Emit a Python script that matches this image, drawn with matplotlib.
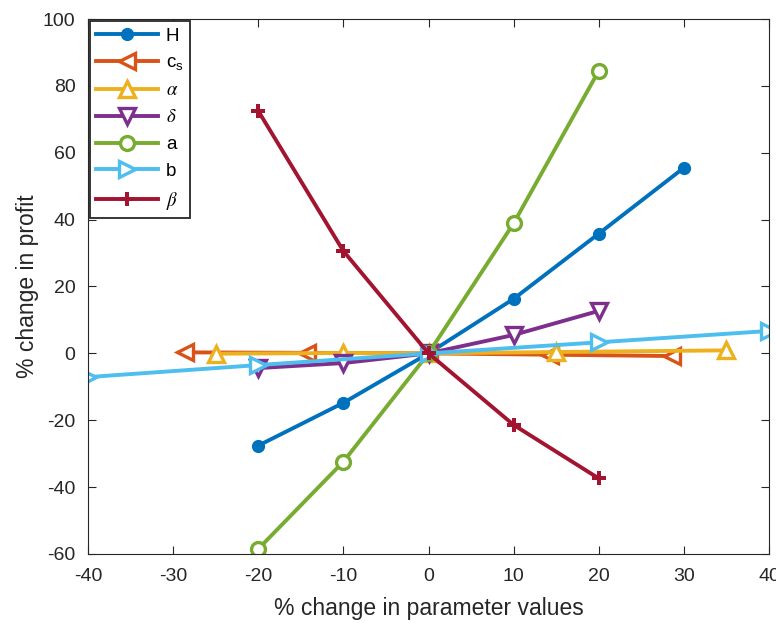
"""sensitivity of profit to parameter changes"""
import matplotlib
matplotlib.use("Agg")
import matplotlib.pyplot as plt

plt.rcParams['font.family'] = ['Liberation Sans', 'DejaVu Sans']
plt.rcParams['mathtext.fontset'] = 'stix'
plt.rcParams['axes.unicode_minus'] = False

# % change in each parameter and resulting % change in profit
h_x = [-20, -10, 0, 10, 20, 30]
h_y = [-27.6, -14.8, 0, 16.3, 35.8, 55.5]
cs_x = [-28.6, -14.3, 0, 14.3, 28.6]
cs_y = [0.3, 0.15, 0, -0.4, -0.8]
alpha_x = [-25, -10, 0, 15, 35]
alpha_y = [-0.1, 0.1, 0, 0.4, 0.9]
delta_x = [-20, -10, 0, 10, 20]
delta_y = [-4.4, -2.9, 0, 5.5, 12.7]
a_x = [-20, -10, 0, 10, 20]
a_y = [-58.5, -32.4, 0, 38.9, 84.5]
b_x = [-40, -20, 0, 20, 40]
b_y = [-7.1, -3.5, 0, 3.3, 6.7]
beta_x = [-20, -10, 0, 10, 20]
beta_y = [72.5, 30.6, 0, -21.4, -37.4]

colors = ['#0072BD', '#D95319', '#EDB120', '#7E2F8E', '#77AC30', '#4DBEEE', '#A2142F']

fig = plt.figure(figsize=(7.76, 6.23), dpi=100)
ax = fig.add_axes([0.1134, 0.1108, 0.8776, 0.8587])

lw = 2.8
ms = 11
ax.plot(h_x, h_y, '-o', color=colors[0], lw=lw, ms=8.5, label='H')
ax.plot(cs_x, cs_y, '-<', color=colors[1], lw=lw, ms=ms, mfc='white', mew=2.4,
        label=r'$\mathregular{c_s}$')
ax.plot(alpha_x, alpha_y, '-^', color=colors[2], lw=lw, ms=ms, mfc='white', mew=2.4,
        label=r'$\alpha$')
ax.plot(delta_x, delta_y, '-v', color=colors[3], lw=lw, ms=ms, mfc='white', mew=2.4,
        label=r'$\delta$')
ax.plot(a_x, a_y, '-o', color=colors[4], lw=lw, ms=10, mfc='white', mew=2.4, label='a')
ax.plot(b_x, b_y, '->', color=colors[5], lw=lw, ms=ms, mfc='white', mew=2.4, label='b')
ax.plot(beta_x, beta_y, '-P', color=colors[6], lw=lw, ms=9.5, mew=0, label=r'$\beta$')

ax.set_xlim(-40, 40)
ax.set_ylim(-60, 100)
ax.set_xticks(range(-40, 41, 10))
ax.set_yticks(range(-60, 101, 20))
ax.tick_params(direction='in', top=True, right=True, labelsize=14, length=6,
               colors='#262626')
ax.tick_params(axis='y', pad=9)
ax.tick_params(axis='x', pad=10)
for s in ax.spines.values():
    s.set_color('#262626')
ax.set_xlabel("% change in parameter values", fontsize=16.5, color='#262626', labelpad=9)
ax.set_ylabel("% change in profit", fontsize=16.5, color='#262626', labelpad=3)

leg = ax.legend(loc='upper left', fontsize=13.5, handlelength=3.3, borderaxespad=0.1,
                fancybox=False, edgecolor='#262626', framealpha=1, labelspacing=0.52,
                borderpad=0.35, handletextpad=0.4)
leg.get_frame().set_linewidth(1.3)

plt.savefig('out.png', dpi=100)
